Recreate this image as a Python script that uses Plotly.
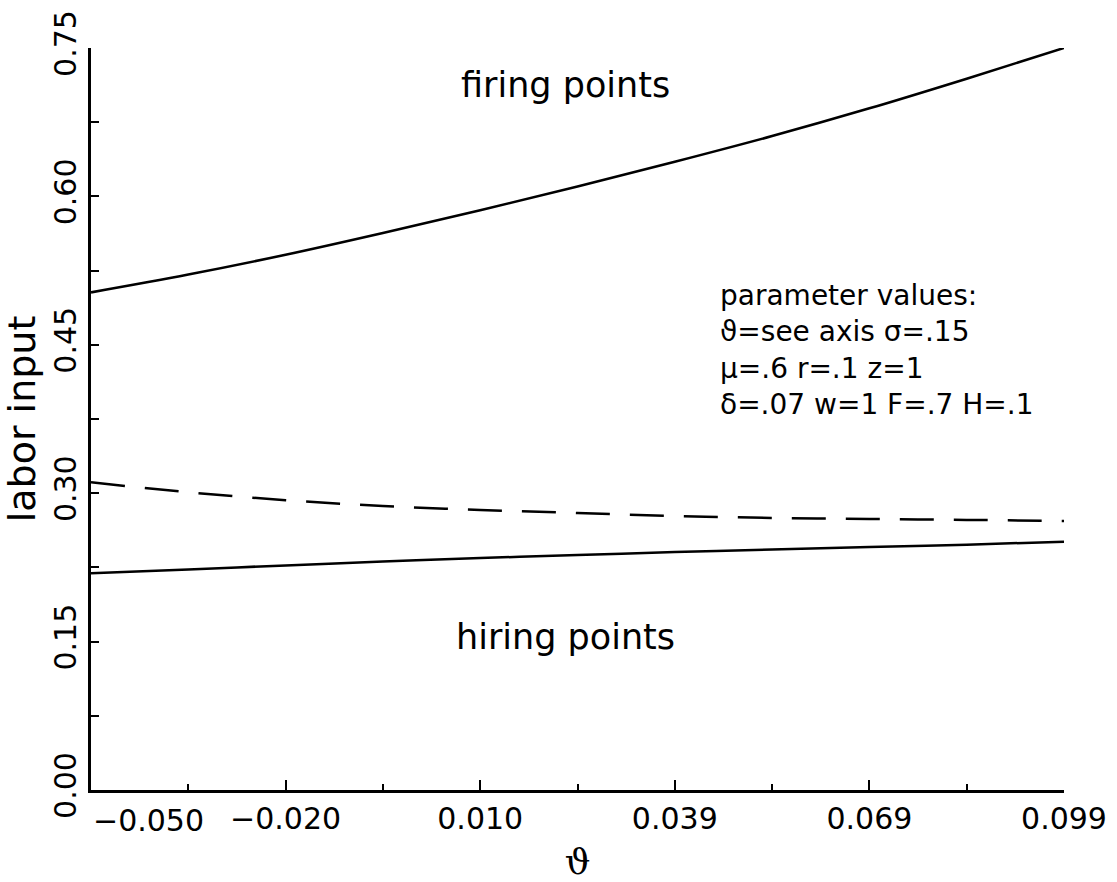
import numpy as np
import plotly.graph_objects as go

# ---- data ---------------------------------------------------------------
theta = [-0.050, -0.0351, -0.0202, -0.0053, 0.0096, 0.0245,
         0.0394, 0.0543, 0.0692, 0.0841, 0.099]

firing_points = [0.503, 0.521, 0.541, 0.563, 0.586, 0.610,
                 0.635, 0.661, 0.689, 0.719, 0.750]
reference_level = [0.311, 0.301, 0.293, 0.287, 0.283, 0.280,
                   0.277, 0.275, 0.274, 0.273, 0.272]
hiring_points = [0.219, 0.223, 0.227, 0.231, 0.2345, 0.2375,
                 0.2405, 0.243, 0.2455, 0.248, 0.251]

x_tick_labels = ["\u22120.050", "\u22120.020", "0.010", "0.039", "0.069", "0.099"]
y_tick_labels = ["0.00", "0.15", "0.30", "0.45", "0.60", "0.75"]
y_tick_values = [0.00, 0.15, 0.30, 0.45, 0.60, 0.75]

param_lines = [
    "parameter values:",
    "\u03d1=see axis \u03c3=.15",
    "\u03bc=.6 r=.1 z=1",
    "\u03b4=.07 w=1 F=.7 H=.1",
]

# ---- figure -------------------------------------------------------------
FONT = "DejaVu Sans"
x_lo, x_hi = -0.050, 0.099
x_ticks = np.linspace(x_lo, x_hi, len(x_tick_labels))
x_minor = (x_ticks[:-1] + x_ticks[1:]) / 2
y_minor = [v + 0.075 for v in y_tick_values[:-1]]

fig = go.Figure()

fig.add_trace(go.Scatter(x=theta, y=firing_points, mode="lines",
                         line=dict(color="black", width=2.6, shape="spline"),
                         showlegend=False))
fig.add_trace(go.Scatter(x=theta, y=reference_level, mode="lines",
                         line=dict(color="black", width=2.5, dash="34px,20px",
                                   shape="spline"),
                         showlegend=False))
fig.add_trace(go.Scatter(x=theta, y=hiring_points, mode="lines",
                         line=dict(color="black", width=2.5, shape="spline"),
                         showlegend=False))

# region labels
fig.add_annotation(x=0.0226, y=0.7126, text="firing points", showarrow=False,
                   font=dict(family=FONT, size=35, color="black"))
fig.add_annotation(x=0.0226, y=0.1547, text="hiring points", showarrow=False,
                   font=dict(family=FONT, size=35, color="black"))

# parameter block
fig.add_annotation(x=0.046, y=0.445, text="<br>".join(param_lines),
                   showarrow=False, xanchor="left", yanchor="middle",
                   align="left",
                   font=dict(family=FONT, size=28, color="black"))

# first x tick label sits to the right of its tick
fig.add_annotation(x=x_ticks[0], y=0, xref="x", yref="paper",
                   text=x_tick_labels[0], showarrow=False,
                   xanchor="left", yanchor="top", yshift=-11,
                   font=dict(family=FONT, size=30, color="black"))

fig.update_xaxes(
    range=[x_lo, x_hi], automargin=False,
    tickmode="array", tickvals=x_ticks,
    ticktext=[""] + x_tick_labels[1:],
    ticks="inside", ticklen=10, tickwidth=2, tickcolor="black",
    minor=dict(tickmode="array", tickvals=x_minor, ticks="inside",
               ticklen=6, tickwidth=2, tickcolor="black"),
    showline=True, linewidth=3, linecolor="black", mirror=False,
    showgrid=False, zeroline=False,
    tickfont=dict(family=FONT, size=30, color="black"),
    title=dict(text="\u03d1", font=dict(family="DejaVu Serif", size=36, color="black"),
               standoff=18),
)
fig.update_yaxes(
    range=[0, 0.75], automargin=False,
    tickmode="array", tickvals=y_tick_values, ticktext=y_tick_labels,
    tickangle=-90,
    ticks="inside", ticklen=8, tickwidth=2, tickcolor="black",
    minor=dict(tickmode="array", tickvals=y_minor, ticks="inside",
               ticklen=8, tickwidth=2, tickcolor="black"),
    showline=True, linewidth=3, linecolor="black", mirror=False,
    showgrid=False, zeroline=False,
    tickfont=dict(family=FONT, size=30, color="black"),
    title=dict(text="labor input", font=dict(family=FONT, size=38, color="black"),
               standoff=6),
)

fig.update_layout(
    width=1117, height=882,
    margin=dict(l=91, r=53, t=48, b=92, pad=0),
    plot_bgcolor="white", paper_bgcolor="white",
)

fig.write_html("out.html")
